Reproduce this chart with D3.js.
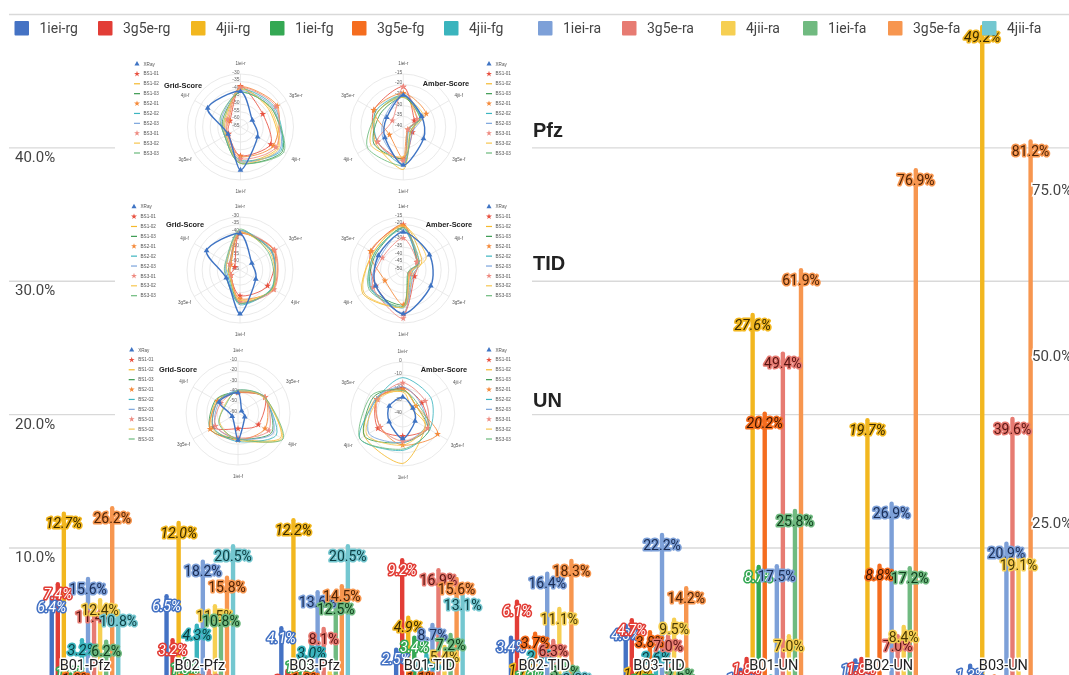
<!DOCTYPE html>
<html>
<head>
<meta charset="utf-8">
<script src="https://cdn.jsdelivr.net/npm/d3@7.9.0/dist/d3.min.js"></script>
<style>
  body { margin: 0; background: #fff; overflow: hidden; }
  svg { display: block; font-family: Roboto, sans-serif; filter: blur(0.45px); }
  .inset text { font-family: "Liberation Sans", sans-serif; }
  .inset { filter: blur(0.35px); }
</style>
</head>
<body>
<svg id="chart" width="1069" height="675"></svg>
<script>
const categories = ['B01-Pfz', 'B02-Pfz', 'B03-Pfz', 'B01-TID', 'B02-TID', 'B03-TID', 'B01-UN', 'B02-UN', 'B03-UN'];
const seriesNames = ['1iei-rg', '3g5e-rg', '4jii-rg', '1iei-fg', '3g5e-fg', '4jii-fg', '1iei-ra', '3g5e-ra', '4jii-ra', '1iei-fa', '3g5e-fa', '4jii-fa'];

// first six series read on the left axis, last six on the right one
const v1ieiRg = [6.4, 6.5, 4.1, 2.5, 3.4, 4.3, 1.0, 1.7, 1.3];
const v3g5eRg = [7.4, 3.2, 0.9, 9.2, 6.1, 4.7, 1.8, 1.8, 0.7];
const v4jiiRg = [12.7, 12.0, 12.2, 4.9, 1.7, 1.4, 27.6, 19.7, 49.2];
const v1ieiFg = [1.5, 1.8, 1.9, 3.4, 1.2, 0.9, 8.7, 0.5, 0.4];
const v3g5eFg = [1.0, 0.9, 1.0, 1.1, 3.7, 3.8, 20.2, 8.8, 0.5];
const v4jiiFg = [3.2, 4.3, 3.0, 2.1, 2.7, 2.6, 0.5, 0.4, 0.2];
const v1ieiRa = [15.6, 18.2, 13.6, 8.7, 16.4, 22.2, 17.5, 26.9, 20.9];
const v3g5eRa = [11.4, 1.8, 8.1, 16.9, 6.3, 7.0, 49.4, 7.0, 39.6];
const v4jiiRa = [12.4, 11.5, 1.6, 5.4, 11.1, 9.5, 7.0, 8.4, 19.1];
const v1ieiFa = [6.2, 10.8, 12.5, 7.2, 3.1, 2.6, 25.8, 17.2, 0.8];
const v3g5eFa = [26.2, 15.8, 14.5, 15.6, 18.3, 14.2, 61.9, 76.9, 81.2];
const v4jiiFa = [10.8, 20.5, 20.5, 13.1, 2.0, 1.0, 0.5, 0.3, 0.3];
const seriesValues = [v1ieiRg, v3g5eRg, v4jiiRg, v1ieiFg, v3g5eFg, v4jiiFg, v1ieiRa, v3g5eRa, v4jiiRa, v1ieiFa, v3g5eFa, v4jiiFa];

const barColors = ['#4472c4', '#e23d36', '#f2b71f', '#34a853', '#f56d1f', '#3ab4bd', '#7da0d8', '#e77b72', '#f6cf52', '#70ba80', '#f7964f', '#74c7d0'];
const labelColors = ['#fff', '#fff', '#3a2a00', '#fff', '#3a1500', '#07383c', '#1a2d55', '#5a1512', '#4a3a05', '#0f3d1c', '#4f2406', '#0d4146'];
const legendX = [14.5, 98, 191, 270, 352, 444, 538, 622, 721, 803, 888, 982];

const leftTicks = [10, 20, 30, 40, 50];
const rightTicks = [25, 50, 75];
const sideNotes = ['Pfz', 'TID', 'UN'];
const sideNoteY = [137, 270, 407];

// radar insets, axes start at the top
const radarAxes = ['1iei-r', '3g5e-r', '4jii-r', '1iei-f', '3g5e-f', '4jii-f'];
const radarSeries = ['XRay', 'BS1-01', 'BS1-02', 'BS1-03', 'BS2-01', 'BS2-02', 'BS2-03', 'BS3-01', 'BS3-02', 'BS3-03'];
const radarColors = ['#3f74c4', '#e8503f', '#f5b92d', '#3a9a50', '#f58a3a', '#3db5c0', '#7aa4dc', '#ee8a80', '#f7c64f', '#6cba7c'];

const gridTop = [
  [-41.5, -56, -52, -36.5, -55.5, -40],
  [-38, -48, -42, -46, -56, -57],
  [-39, -43, -37, -42, -54, -54],
  [-42, -41, -33, -41, -53, -52],
  [-38.5, -37, -40, -45.5, -55, -56],
  [-40, -39, -34, -43, -54, -53],
  [-41, -40, -35, -42, -53, -51],
  [-39, -38, -38, -44, -55, -55],
  [-40, -42, -36, -41, -54, -53],
  [-42, -41, -32, -41, -53, -50]
];
const amberTop = [
  [-25, -31, -30, -22, -29, -30],
  [-21, -24, -26, -25, -35, -34],
  [-25, -26, -25, -20, -36, -32.5],
  [-26, -27.5, -24, -25, -37.5, -31],
  [-24, -24, -32.5, -25, -37.5, -27.5],
  [-25, -25, -26, -22.5, -37, -30.5],
  [-24.5, -30, -29, -22.5, -35, -30],
  [-21, -34, -26, -24, -37.5, -32.5],
  [-26, -26, -22.5, -26, -36, -29],
  [-25.5, -26, -20.5, -22, -36, -31]
];
const gridMid = [
  [-41, -56, -53, -36, -54.5, -39.5],
  [-41, -39, -44, -48, -58, -61],
  [-40.5, -40.5, -40, -44, -58, -58],
  [-40, -41, -40.5, -43, -57, -57],
  [-40.5, -39, -39.5, -46, -58, -58],
  [-39, -40.5, -41, -42, -56, -55],
  [-39, -41, -40, -43, -55, -54.5],
  [-40.5, -38.5, -39, -44, -58, -57],
  [-40, -42, -40, -45, -57, -55],
  [-38, -43, -40.5, -43, -54.5, -54]
];
const amberMid = [
  [-25, -31, -29, -21, -29, -30],
  [-20, -25.5, -29, -21, -41.5, -39.5],
  [-20, -27, -19, -25.5, -43, -36],
  [-22, -29, -25.5, -27, -46, -39.5],
  [-21, -25, -36, -27, -45, -39],
  [-23, -28, -25, -25, -44, -39.5],
  [-24, -32.5, -26, -22, -42.5, -38],
  [-29, -34, -27, -18, -45, -39.5],
  [-21, -27, -20, -25.5, -45, -32.5],
  [-22, -28, -24, -26, -46.5, -38]
];
const gridLow = [
  [-40.5, -56, -52.5, -34, -53.5, -39],
  [-40.5, -30, -37.5, -45, -32.5, -37.5],
  [-40, -30, -12.5, -35, -31, -36],
  [-40, -30, -22.5, -35, -29, -35],
  [-40.5, -30, -30, -34, -29, -37.5],
  [-39, -31, -17.5, -32.5, -32.5, -37.5],
  [-38, -30, -21, -35, -35, -39],
  [-40, -30, -26, -36, -35, -41],
  [-39, -31, -11, -34, -40, -45],
  [-38, -30, -10, -35, -39, -46]
];
const amberLow = [
  [-27, -28, -28, -21, -29, -31],
  [-20, -17, -18, -23, -18, -23],
  [-23, -16, -6, -2, -20, -32],
  [-21, -14, -6, -18, -18, -28],
  [-21, -17, -20, -16, -9, -28],
  [-12, -17, -2, -12, -16, -15],
  [-19, -16, -10, -18, -20, -24],
  [-16, -18, -20, -19, -18, -20],
  [-22, -18, -8, -16, -20, -28],
  [-22, -12, -2, -13, -16, -26]
];

const svg = d3.select('#chart');
const width = 1069;
const baseY = 680.8;
const topY = 14;

const x0 = d3.scaleBand().domain(categories).range([27.6, 1060.8]).paddingInner(0.368).paddingOuter(0.184);
const x1 = d3.scaleBand().domain(seriesNames).range([0, x0.bandwidth()]);
const yLeft = d3.scaleLinear().domain([0, 50]).range([baseY, topY]);
const yRight = d3.scaleLinear().domain([0, 100]).range([baseY, topY]);
const yFor = i => (i < 6 ? yLeft : yRight);
const barW = 4.4;

// gridlines + left labels
const leftAxis = svg.append('g')
  .attr('transform', 'translate(9,0)')
  .call(d3.axisRight(yLeft).tickValues(leftTicks).tickSize(width - 9).tickFormat(d => (d === 50 ? '' : d.toFixed(1) + '%')));
leftAxis.select('.domain').remove();
leftAxis.selectAll('line').attr('stroke', '#d9d9d9').attr('stroke-width', 1.4);
leftAxis.selectAll('text')
  .attr('x', 6).attr('dy', 14)
  .attr('text-anchor', 'start')
  .attr('fill', '#444').attr('font-size', 15).attr('font-family', 'Roboto, sans-serif');

// radar panel sits on a white block over the gridlines
const inset = svg.append('g').attr('class', 'inset');
inset.append('rect').attr('x', 115).attr('y', 45).attr('width', 417).attr('height', 445).attr('fill', '#fff');

function drawRadar(cfg) {
  const g = inset.append('g').attr('transform', `translate(${cfg.cx},${cfg.cy})`);
  const r = d3.scaleLinear().domain(cfg.domain).range([0, cfg.radius]);
  const dir = cfg.clockwise ? 1 : -1;
  const angle = d3.scalePoint().domain(radarAxes).range([0, dir * 2 * Math.PI * 5 / 6]);

  r.ticks(cfg.rings).forEach(t => {
    if (t === cfg.domain[0]) return;
    g.append('circle').attr('r', r(t)).attr('fill', 'none').attr('stroke', '#e4e4e4').attr('stroke-width', 0.8);
  });
  radarAxes.forEach(a => {
    const p = d3.pointRadial(angle(a), cfg.radius);
    g.append('line').attr('x2', p[0]).attr('y2', p[1]).attr('stroke', '#e4e4e4').attr('stroke-width', 0.8);
    const q = d3.pointRadial(angle(a), cfg.radius + 11);
    g.append('text').attr('x', q[0]).attr('y', q[1]).attr('dy', '0.35em')
      .attr('text-anchor', 'middle').attr('font-size', 4.6).attr('fill', '#555').text(a);
  });
  r.ticks(cfg.rings).forEach(t => {
    g.append('text').attr('x', -1).attr('y', -r(t) - 2).attr('dy', '0.35em')
      .attr('text-anchor', 'end').attr('font-size', 5).attr('fill', '#666').text(t);
  });

  const line = d3.lineRadial()
    .angle((d, i) => angle(radarAxes[i]))
    .radius(d => r(d))
    .curve(d3.curveCardinalClosed.tension(0.15));

  // XRay goes on top of the rest
  const order = d3.range(1, radarSeries.length).concat(0);
  order.forEach(s => {
    g.append('path').attr('d', line(cfg.values[s]))
      .attr('fill', 'none').attr('stroke', radarColors[s])
      .attr('stroke-width', s === 0 ? 1.4 : 1).attr('opacity', s === 0 ? 1 : 0.85);
    const name = radarSeries[s];
    if (name === 'XRay' || name.endsWith('-01')) {
      cfg.values[s].forEach((v, i) => {
        const p = d3.pointRadial(angle(radarAxes[i]), r(v));
        g.append('path')
          .attr('d', d3.symbol().type(name === 'XRay' ? d3.symbolTriangle : d3.symbolStar).size(14)())
          .attr('transform', `translate(${p[0]},${p[1]})`)
          .attr('fill', radarColors[s]);
      });
    }
  });

  inset.append('text').attr('x', cfg.titleX).attr('y', cfg.titleY).attr('dy', '0.35em')
    .attr('text-anchor', 'middle').attr('font-size', 7.4).attr('font-weight', 700).attr('fill', '#222').text(cfg.title);

  const legY = d3.scalePoint().domain(radarSeries).range([cfg.legTop, cfg.legTop + 89]);
  radarSeries.forEach((name, s) => {
    const ly = legY(name);
    if (name === 'XRay' || name.endsWith('-01')) {
      inset.append('path')
        .attr('d', d3.symbol().type(name === 'XRay' ? d3.symbolTriangle : d3.symbolStar).size(11)())
        .attr('transform', `translate(${cfg.legX},${ly})`).attr('fill', radarColors[s]);
    } else {
      inset.append('line').attr('x1', cfg.legX - 3).attr('x2', cfg.legX + 3).attr('y1', ly).attr('y2', ly)
        .attr('stroke', radarColors[s]).attr('stroke-width', 1.2);
    }
    inset.append('text').attr('x', cfg.legX + 6.5).attr('y', ly).attr('dy', '0.35em')
      .attr('font-size', 4.6).attr('fill', '#555').text(name);
  });
}

drawRadar({ cx: 240.5, cy: 127, radius: 53, domain: [-65, -30], rings: 7, clockwise: true, values: gridTop, title: 'Grid-Score', titleX: 183, titleY: 85, legX: 137, legTop: 64 });
drawRadar({ cx: 403.3, cy: 127, radius: 53, domain: [-40, -15], rings: 5, clockwise: false, values: amberTop, title: 'Amber-Score', titleX: 446, titleY: 83, legX: 489, legTop: 64 });
drawRadar({ cx: 240, cy: 270, radius: 53, domain: [-65, -30], rings: 7, clockwise: true, values: gridMid, title: 'Grid-Score', titleX: 185, titleY: 224, legX: 134, legTop: 206.7 });
drawRadar({ cx: 403.3, cy: 270, radius: 53, domain: [-50, -15], rings: 7, clockwise: false, values: amberMid, title: 'Amber-Score', titleX: 449, titleY: 224, legX: 489, legTop: 206.7 });
drawRadar({ cx: 238, cy: 413, radius: 52, domain: [-60, -10], rings: 5, clockwise: true, values: gridLow, title: 'Grid-Score', titleX: 178, titleY: 369, legX: 131.7, legTop: 350 });
drawRadar({ cx: 402.7, cy: 414, radius: 52, domain: [-40, 0], rings: 4, clockwise: false, values: amberLow, title: 'Amber-Score', titleX: 444, titleY: 369, legX: 489, legTop: 350 });

sideNotes.forEach((t, i) => {
  svg.append('text').attr('x', 533).attr('y', sideNoteY[i])
    .attr('font-family', '"Liberation Sans", sans-serif')
    .attr('font-size', 20).attr('font-weight', 700).attr('fill', '#222').text(t);
});

// bars
seriesNames.forEach((name, i) => {
  const y = yFor(i);
  svg.append('g').selectAll('rect')
    .data(seriesValues[i].map((v, j) => ({ c: categories[j], v })))
    .join('rect')
    .attr('x', d => x0(d.c) + x1(name) + x1.bandwidth() / 2 - barW / 2)
    .attr('y', d => y(d.v))
    .attr('width', barW)
    .attr('height', d => baseY - y(d.v))
    .attr('rx', barW / 2)
    .attr('fill', barColors[i]);
});

// value labels, halo colored like the bar
seriesNames.forEach((name, i) => {
  const y = yFor(i);
  svg.append('g').selectAll('text')
    .data(seriesValues[i].map((v, j) => ({ c: categories[j], v })))
    .join('text')
    .attr('x', d => x0(d.c) + x1(name) + x1.bandwidth() / 2)
    .attr('y', d => y(d.v) + 12)
    .attr('dy', '0.35em')
    .attr('text-anchor', 'middle')
    .attr('font-size', 14)
    .attr('font-style', i < 6 ? 'italic' : 'normal')
    .attr('fill', labelColors[i])
    .attr('stroke', barColors[i])
    .attr('stroke-width', 3.2)
    .attr('stroke-linejoin', 'round')
    .attr('paint-order', 'stroke')
    .text(d => d.v.toFixed(1) + '%');
});

// right axis text goes over the bars
const rightAxis = svg.append('g')
  .attr('transform', 'translate(1032,0)')
  .call(d3.axisRight(yRight).tickValues(rightTicks).tickSize(0).tickFormat(d => d.toFixed(1) + '%'));
rightAxis.select('.domain').remove();
rightAxis.selectAll('text')
  .attr('x', 0).attr('dy', 13.5)
  .attr('text-anchor', 'start')
  .attr('font-size', 15).attr('font-family', 'Roboto, sans-serif')
  .attr('fill', '#444').attr('stroke', '#fff').attr('stroke-width', 3).attr('paint-order', 'stroke');

// category labels
const xAxis = svg.append('g')
  .attr('transform', 'translate(0,665)')
  .call(d3.axisBottom(x0).tickSize(0));
xAxis.select('.domain').remove();
xAxis.selectAll('text')
  .attr('y', 0).attr('dy', '0.35em')
  .attr('font-size', 14.5).attr('font-family', 'Roboto, sans-serif')
  .attr('fill', '#222').attr('stroke', '#fff').attr('stroke-width', 3).attr('stroke-linejoin', 'round').attr('paint-order', 'stroke');

// legend last, it covers the tall bar
const legend = svg.append('g');
seriesNames.forEach((name, i) => {
  legend.append('rect').attr('x', legendX[i]).attr('y', 21).attr('width', 14.5).attr('height', 14.5).attr('rx', 1).attr('fill', barColors[i]);
  legend.append('text').attr('x', legendX[i] + 25).attr('y', 28).attr('dy', '0.35em')
    .attr('font-size', 14).attr('fill', '#444').text(name);
});
</script>
</body>
</html>
